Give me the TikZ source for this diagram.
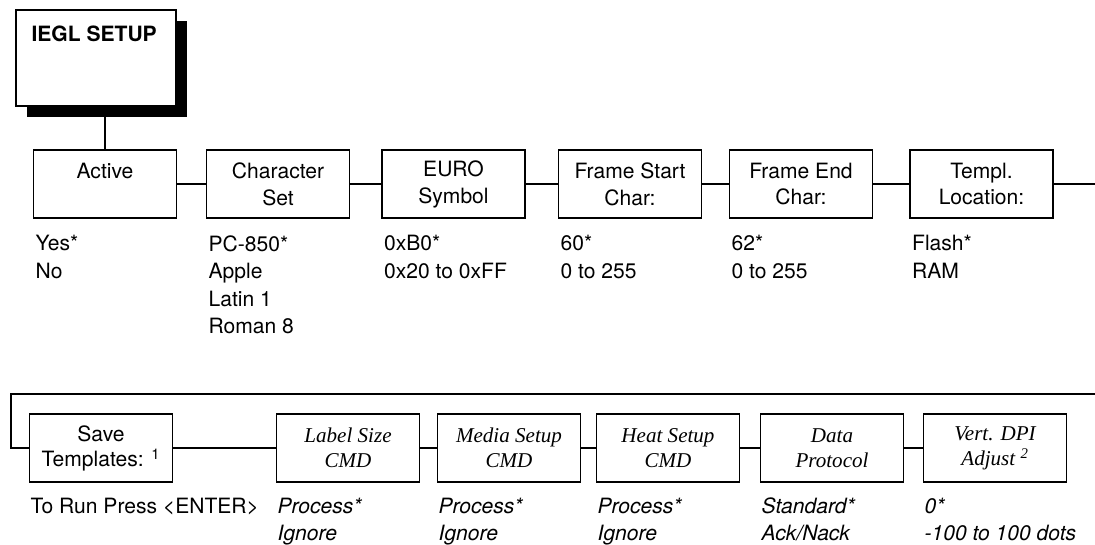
\documentclass[tikz,border=0pt]{standalone}
\usepackage{fontspec}
\setmainfont{TeX Gyre Heros}
\newfontfamily\cmdfont{Liberation Serif}
\usetikzlibrary{shadows}

\begin{document}
\begin{tikzpicture}[x=0.75pt, y=-0.75pt, line width=1.2pt,
    menubox/.style={draw, fill=white, minimum width=107pt, minimum height=51pt,
                    inner sep=0pt, align=center, font=\fontsize{15.8}{20.2}\selectfont},
    lowrow/.style={font=\fontsize{15.8}{18.8}\selectfont},
    cmdbox/.style={menubox, font=\cmdfont\itshape\fontsize{15.8}{18.8}\selectfont},
    choices/.style={anchor=north west, inner sep=0pt, align=left,
                    font=\fontsize{15.8}{20.6}\selectfont},
    cmdchoices/.style={choices, font=\itshape\fontsize{15.8}{20}\selectfont}]

    \useasboundingbox (0,0) rectangle (1095,544);

    % Header box with solid shadow
    \node (header) [draw, fill=white, minimum width=120pt, minimum height=72pt,
                    drop shadow={shadow xshift=8.25pt, shadow yshift=-8.25pt, fill=black, opacity=1}]
                    at (96,58) {};
    \node (title) [anchor=north west, inner sep=0pt, font=\bfseries\fontsize{15.8}{19}\selectfont]
                    at ([shift={(15.5,15.5)}]header.north west) {IEGL SETUP};

    % First row
    \node[menubox] (active)   at (105,184)   {Active\\\mbox{}};
    \node[menubox] (charset)  at (278,184)   {Character\\Set};
    \node[menubox] (euro)     at (453.5,184) {EURO\\Symbol};
    \node[menubox] (fstart)   at (630,184)   {Frame Start\\Char:};
    \node[menubox] (fend)     at (801,184)   {Frame End\\Char:};
    \node[menubox] (templloc) at (981.5,184) {Templ.\\Location:};

    \node[choices] (activeopt)  at ([shift={(2,16)}]active.south west)   {Yes*\\No};
    \node[choices] (charsetopt) at ([shift={(2,16)}]charset.south west)  {PC-850*\\Apple\\Latin 1\\Roman 8};
    \node[choices] (euroopt)    at ([shift={(2,16)}]euro.south west)     {0xB0*\\0x20 to 0xFF};
    \node[choices] (fstartopt)  at ([shift={(2,16)}]fstart.south west)   {60*\\0 to 255};
    \node[choices] (fendopt)    at ([shift={(2,16)}]fend.south west)     {62*\\0 to 255};
    \node[choices] (templopt)   at ([shift={(2,16)}]templloc.south west) {Flash*\\RAM};

    % Second row
    \node[menubox, lowrow] (savetpl)   at (101,448) {Save\\Templates: \textsuperscript{1}};
    \node[cmdbox]          (labelsize) at (348,448) {Label Size\\CMD};
    \node[cmdbox]          (mediasetup) at (509,448) {Media Setup\\CMD};
    \node[cmdbox]          (heatsetup) at (668,448) {Heat Setup\\CMD};
    \node[cmdbox]          (dataproto) at (832,448) {Data\\Protocol};
    \node[cmdbox]          (vertdpi)   at (995,448) {Vert. DPI\\Adjust \textsuperscript{2}};

    \node[choices]    (saveopt)  at ([shift={(1,14.5)}]savetpl.south west)    {To Run Press <ENTER>};
    \node[cmdchoices] (labelopt) at ([shift={(1,14.5)}]labelsize.south west)  {Process*\\Ignore};
    \node[cmdchoices] (mediaopt) at ([shift={(1,14.5)}]mediasetup.south west) {Process*\\Ignore};
    \node[cmdchoices] (heatopt)  at ([shift={(1,14.5)}]heatsetup.south west)  {Process*\\Ignore};
    \node[cmdchoices] (dataopt)  at ([shift={(1,14.5)}]dataproto.south west)  {Standard*\\Ack/Nack};
    \node[cmdchoices] (vertopt)  at ([shift={(1,14.5)}]vertdpi.south west)    {0*\\-100 to 100 dots};

    % Connectors
    \coordinate (rightedge) at (1095,0);
    \coordinate (wrapR) at (1095,394);
    \coordinate (wrapL) at (11,394);

    \draw (active.north) -- (active.north |- header.south);
    \draw (active.east) -- (charset.west);
    \draw (charset.east) -- (euro.west);
    \draw (euro.east) -- (fstart.west);
    \draw (fstart.east) -- (fend.west);
    \draw (fend.east) -- (templloc.west);
    \draw (templloc.east) -- (templloc.east -| rightedge);

    \draw (wrapR) -- (wrapL) |- (savetpl.west);
    \draw (savetpl.east) -- (labelsize.west);
    \draw (labelsize.east) -- (mediasetup.west);
    \draw (mediasetup.east) -- (heatsetup.west);
    \draw (heatsetup.east) -- (dataproto.west);
    \draw (dataproto.east) -- (vertdpi.west);

\end{tikzpicture}
\end{document}
